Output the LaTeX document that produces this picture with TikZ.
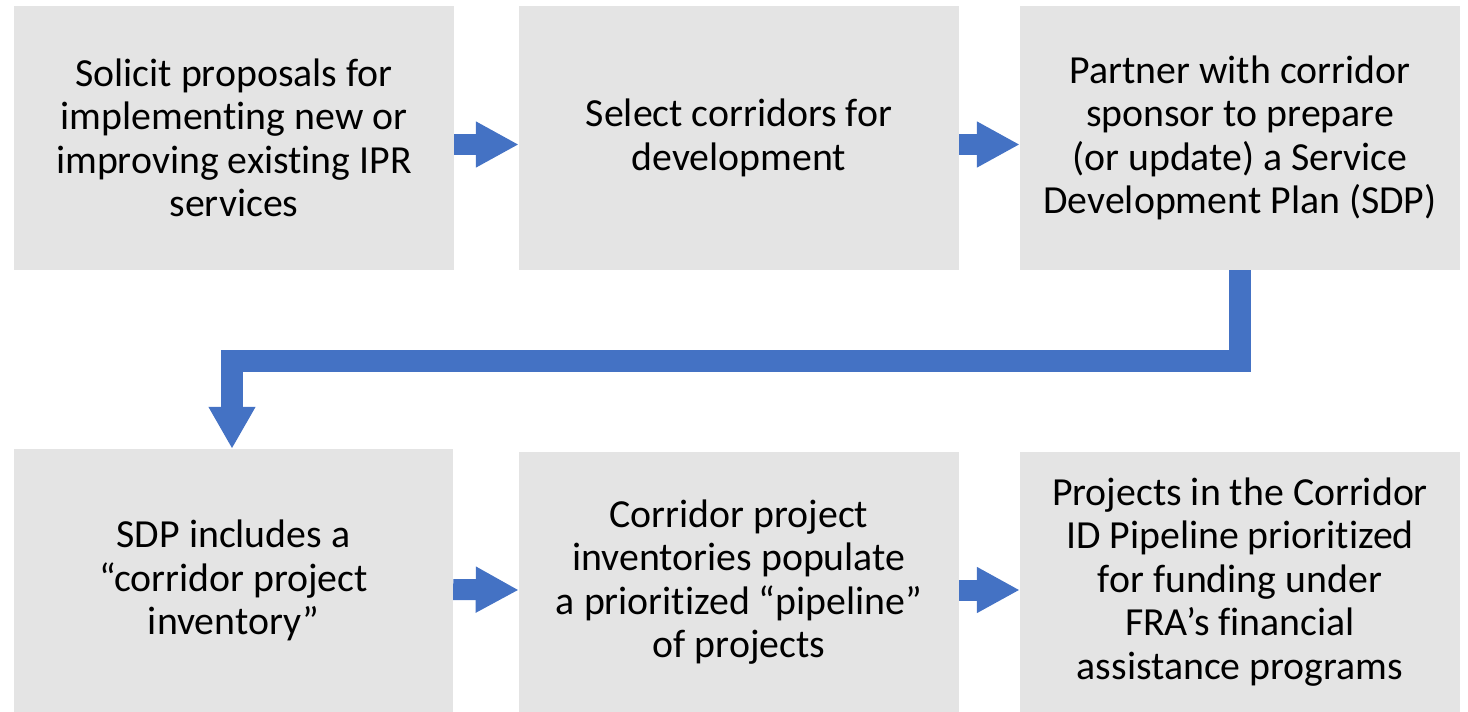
\documentclass[tikz,border=0pt]{standalone}
\usepackage{fontspec}
\setmainfont[Ligatures=NoCommon]{Carlito}
\usetikzlibrary{arrows.meta}
\definecolor{boxgray}{RGB}{228,228,228}
\definecolor{flowblue}{RGB}{68,114,196}
\tikzset{
	stepbox/.style={fill=boxgray, inner sep=0pt, align=center, minimum width=440pt, minimum height=#1, font=\fontsize{39.8}{43.5}\selectfont},
	blockarrow/.style={draw=flowblue, line width=21pt, line join=miter, -{Triangle[width=43pt, length=43pt]}},
}
\begin{document}
\begin{tikzpicture}[x=1pt, y=-1pt]
	\useasboundingbox (0,0) rectangle (1468,712);
	
	% first row
	\node[stepbox=264pt] (solicit) at (234,138) {Solicit proposals for\\implementing new or\\improving existing IPR\\services};
	\node[stepbox=264pt] (select) at (739,138) {Select corridors for\\development};
	\node[stepbox=264pt] (partner) at (1240,138) {Partner with corridor\\sponsor to prepare\\(or update) a Service\\Development Plan (SDP)};
	
	% second row
	\node[stepbox=263pt, minimum width=439pt] (sdp) at (233.5,580.5) {SDP includes a\\“corridor project\\inventory”};
	\node[stepbox=260pt] (inventory) at (739,582) {Corridor project\\inventories populate\\a prioritized “pipeline”\\of projects};
	\node[stepbox=260pt] (funding) at (1240,582) {Projects in the Corridor\\ID Pipeline prioritized\\for funding under\\FRA’s financial\\assistance programs};
	
	% arrows
	\draw[blockarrow] ([yshift=-6.5pt]solicit.east) -- ([yshift=-6.5pt]select.west);
	\draw[blockarrow] ([yshift=-6.5pt]select.east) -- ([yshift=-6.5pt]partner.west);
	\draw[blockarrow] ([yshift=-9pt]sdp.east) -- ([yshift=-8pt]inventory.west);
	\draw[blockarrow] ([yshift=-8pt]inventory.east) -- ([yshift=-8pt]funding.west);
	
	% elbow down to the second row
	\coordinate (bend) at (0,361);
	\draw[blockarrow, line width=22pt, -{Triangle[width=44pt, length=42pt]}] (partner.south) -- (partner.south |- bend) -| ([xshift=-1.5pt]sdp.north);
	
\end{tikzpicture}
\end{document}
